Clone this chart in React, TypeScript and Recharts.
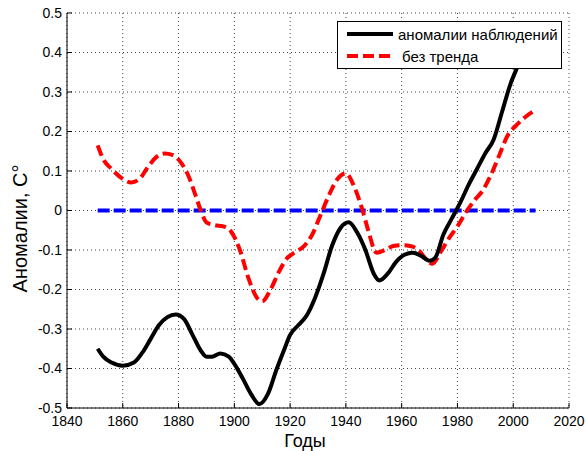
import { LineChart, Line, XAxis, YAxis, CartesianGrid, Legend } from 'recharts';

// observed anomalies (black)
const obsYears = [
  1851, 1853, 1856, 1860, 1864, 1867, 1870, 1873, 1876, 1879, 1882, 1885, 1888, 1890,
  1892, 1895, 1898, 1900, 1903, 1906, 1909, 1912, 1915, 1918, 1920, 1923, 1926, 1929,
  1932, 1935, 1938, 1941, 1944, 1947, 1950, 1952, 1955, 1958, 1961, 1964, 1967, 1970,
  1972, 1975, 1978, 1981, 1984, 1987, 1990, 1993, 1996, 1999, 2001, 2004, 2008,
];
const obsValues = [
  -0.35, -0.37, -0.385, -0.393, -0.385, -0.36, -0.325, -0.29, -0.27, -0.263, -0.275, -0.315, -0.355, -0.37,
  -0.37, -0.362, -0.37, -0.388, -0.425, -0.465, -0.49, -0.465, -0.405, -0.35, -0.315, -0.29, -0.265, -0.22,
  -0.16, -0.09, -0.045, -0.03, -0.055, -0.1, -0.16, -0.177, -0.16, -0.13, -0.112, -0.107, -0.115, -0.127,
  -0.12, -0.06, -0.02, 0.02, 0.065, 0.105, 0.145, 0.18, 0.25, 0.32, 0.355, 0.4, 0.45,
];

// detrended (red dashed)
const detrendYears = [
  1851, 1853, 1856, 1860, 1863, 1866, 1869, 1872, 1875, 1878, 1881, 1884, 1886, 1888,
  1890, 1893, 1896, 1899, 1902, 1905, 1908, 1910, 1913, 1916, 1919, 1922, 1925, 1928,
  1931, 1934, 1937, 1940, 1943, 1946, 1948, 1951, 1954, 1957, 1960, 1963, 1966, 1969,
  1971, 1974, 1977, 1980, 1983, 1986, 1989, 1992, 1995, 1998, 2001, 2004, 2008,
];
const detrendValues = [
  0.165, 0.13, 0.105, 0.08, 0.071, 0.08, 0.11, 0.135, 0.144, 0.14, 0.12, 0.08, 0.04, 0.0,
  -0.03, -0.037, -0.04, -0.055, -0.1, -0.17, -0.22, -0.23, -0.2, -0.155, -0.12, -0.105, -0.09, -0.06,
  -0.01, 0.04, 0.08, 0.094, 0.06, 0.0, -0.05, -0.107, -0.1, -0.09, -0.088, -0.09, -0.1, -0.125,
  -0.135, -0.105, -0.07, -0.04, -0.005, 0.025, 0.05, 0.09, 0.14, 0.19, 0.215, 0.235, 0.255,
];

const zeroYears = [1851, 2008];
const zeroValues = [0, 0];

const xTicks = [1840, 1860, 1880, 1900, 1920, 1940, 1960, 1980, 2000, 2020];
const yTicks = [-0.5, -0.4, -0.3, -0.2, -0.1, 0, 0.1, 0.2, 0.3, 0.4, 0.5];

const legendItems = [
  { label: 'аномалии наблюдений', color: '#000000', dash: undefined },
  { label: 'без тренда', color: '#ff0000', dash: '11 5' },
];

const toPoints = (xs: number[], ys: number[]) => xs.map((x, i) => ({ year: x, value: ys[i] }));

const obsData = toPoints(obsYears, obsValues);
const detrendData = toPoints(detrendYears, detrendValues);
const zeroData = toPoints(zeroYears, zeroValues);

const font = '"Liberation Sans", Arial, sans-serif';
const tickStyle = { fill: '#000', fontSize: 14, fontFamily: font };

function LegendBox() {
  return (
    <svg width={225} height={48} style={{ display: 'block', fontFamily: font }}>
      <rect x={0.5} y={0.5} width={224} height={47} fill="#fff" stroke="#000" />
      {legendItems.map((item, i) => (
        <g key={item.label}>
          <line
            x1={10}
            x2={56}
            y1={13 + i * 22}
            y2={13 + i * 22}
            stroke={item.color}
            strokeWidth={4}
            strokeDasharray={item.dash}
          />
          <text x={i === 0 ? 61 : 65} y={19 + i * 22} fontSize={15} fill="#000">
            {item.label}
          </text>
        </g>
      ))}
    </svg>
  );
}

export default function App() {
  return (
    <div style={{ position: 'absolute', left: 0, top: 0, background: '#fff' }}>
      <LineChart
        width={586}
        height={451}
        margin={{ top: 13, right: 17, bottom: 0, left: 0 }}
        style={{ fontFamily: font }}
      >
        <CartesianGrid stroke="#444" strokeDasharray="1 3" />
        <XAxis
          dataKey="year"
          type="number"
          domain={[1840, 2020]}
          ticks={xTicks}
          allowDataOverflow
          height={43}
          stroke="#000"
          tickSize={-5}
          tickMargin={13}
          tick={tickStyle}
          label={{
            value: 'Годы',
            position: 'insideBottom',
            offset: 4,
            dx: -13,
            style: { fill: '#000', fontSize: 18, fontFamily: font },
          }}
        />
        <XAxis
          xAxisId="top"
          orientation="top"
          type="number"
          domain={[1840, 2020]}
          ticks={xTicks}
          height={0}
          stroke="#000"
          tickSize={-5}
          tick={false}
        />
        <YAxis
          type="number"
          domain={[-0.5, 0.5]}
          ticks={yTicks}
          width={67}
          stroke="#000"
          tickSize={-5}
          tickMargin={10}
          tick={tickStyle}
          tickFormatter={(v: number) => (v === 0 ? '0' : v.toFixed(1))}
          label={{
            value: 'Аномалии, С°',
            angle: -90,
            position: 'insideLeft',
            offset: 20,
            dy: 18,
            style: { textAnchor: 'middle', fill: '#000', fontSize: 20, fontFamily: font },
          }}
        />
        <YAxis
          yAxisId="right"
          orientation="right"
          type="number"
          domain={[-0.5, 0.5]}
          ticks={yTicks}
          width={0}
          stroke="#000"
          tickSize={-5}
          tick={false}
        />
        <Line
          data={zeroData}
          dataKey="value"
          stroke="#0000ff"
          strokeWidth={4}
          strokeDasharray="12 4"
          dot={false}
          isAnimationActive={false}
          legendType="none"
        />
        <Line
          data={detrendData}
          dataKey="value"
          type="monotone"
          stroke="#ff0000"
          strokeWidth={4}
          strokeDasharray="11 5"
          dot={false}
          isAnimationActive={false}
        />
        <Line
          data={obsData}
          dataKey="value"
          type="monotone"
          stroke="#000000"
          strokeWidth={4}
          dot={false}
          isAnimationActive={false}
        />
        <Legend
          layout="vertical"
          align="center"
          verticalAlign="middle"
          content={<LegendBox />}
          wrapperStyle={{ left: 337, top: 21, width: 225, height: 48 }}
        />
      </LineChart>
    </div>
  );
}
